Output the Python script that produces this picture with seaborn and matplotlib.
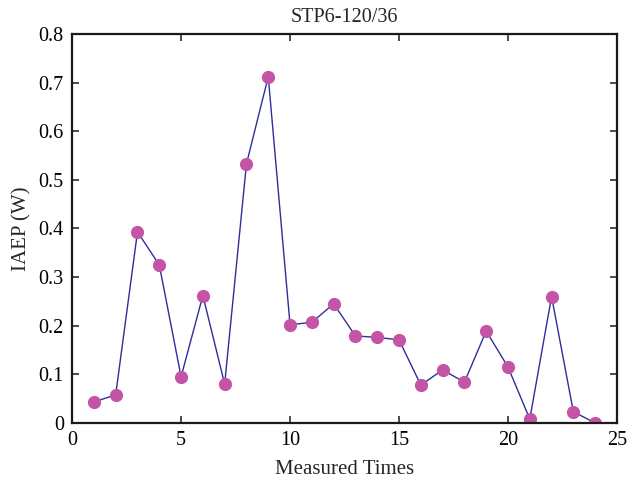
import matplotlib
matplotlib.use("Agg")
import matplotlib.pyplot as plt
import seaborn as sns
import pandas as pd

times = list(range(1, 25))
iaep = [0.043, 0.058, 0.393, 0.325, 0.095, 0.262, 0.080, 0.533, 0.712, 0.202,
        0.207, 0.245, 0.179, 0.176, 0.171, 0.078, 0.109, 0.084, 0.189, 0.115,
        0.008, 0.260, 0.023, 0.0]
x_ticks = [0, 5, 10, 15, 20, 25]
y_ticks = [0, 0.1, 0.2, 0.3, 0.4, 0.5, 0.6, 0.7, 0.8]
y_labels = ["0", "0.1", "0.2", "0.3", "0.4", "0.5", "0.6", "0.7", "0.8"]

sns.set_style("ticks")
plt.rcParams['font.family'] = ['Liberation Serif', 'DejaVu Serif']

df = pd.DataFrame({"t": times, "v": iaep})
fig = plt.figure(figsize=(6.27, 4.79), dpi=100)
ax = fig.add_axes([0.115, 0.117, 0.869, 0.812])
sns.lineplot(data=df, x="t", y="v", ax=ax, color="#2e2e9c", linewidth=1.0,
             marker="o", markersize=9.5, markerfacecolor="#c454a6",
             markeredgecolor="#c454a6", markeredgewidth=0)
ax.set_xlim(0, 25)
ax.set_ylim(0, 0.8)
ax.set_xticks(x_ticks)
ax.set_xticklabels([str(t) for t in x_ticks])
ax.set_yticks(y_ticks)
ax.set_yticklabels(y_labels)
ax.tick_params(direction="in", top=True, right=True, length=5, width=1.1,
               labelsize=14.5, colors="#1a1a1a", labelcolor="black")
ax.tick_params(axis="x", pad=6)
ax.tick_params(axis="y", pad=6)
for s in ax.spines.values():
    s.set_visible(True)
    s.set_linewidth(1.6)
    s.set_color("#1a1a1a")
ax.set_xlabel("Measured Times", fontsize=15, labelpad=7)
ax.set_ylabel("IAEP (W)", fontsize=15, labelpad=5)
ax.set_title("STP6-120/36", fontsize=14.5, pad=9)
fig.savefig("out.png", dpi=100)
